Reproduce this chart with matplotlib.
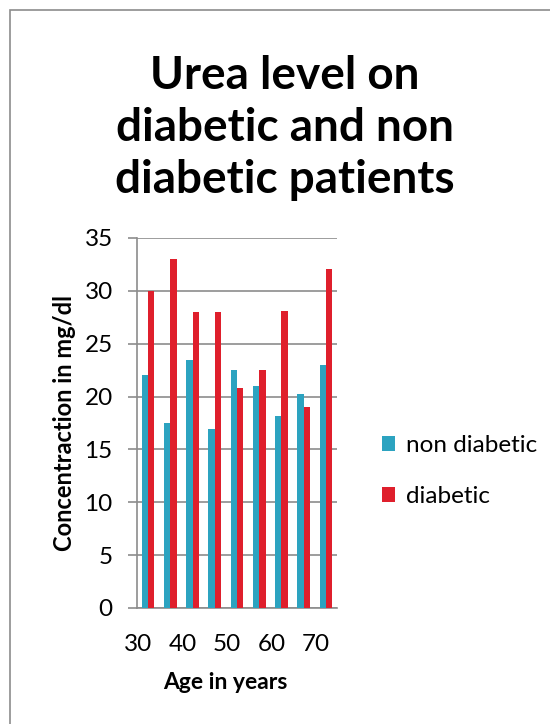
import matplotlib
matplotlib.use('Agg')
import matplotlib.pyplot as plt
import matplotlib.transforms as mtransforms
import numpy as np
from matplotlib.patches import Rectangle

plt.rcParams['font.family'] = ['Lato', 'DejaVu Sans']

ages = [30, 35, 40, 45, 50, 55, 60, 65, 70]
tick_labels = ['30', '', '40', '', '50', '', '60', '', '70']
non_diabetic = [22, 17.5, 23.5, 16.9, 22.5, 21, 18.2, 20.2, 23]
diabetic = [30, 33, 28, 28, 20.8, 22.5, 28.1, 19, 32.1]

blue = '#2CA3C0'
red = '#DF1F2C'

fig = plt.figure(figsize=(5.5, 7.24), dpi=100)
# outer frame of the chart
fig.patches.append(Rectangle((10/550, -0.01), 1.0, 1 - 10/724 + 0.01,
                             transform=fig.transFigure, fill=False,
                             edgecolor='#8c8c8c', linewidth=1.2))

ax = fig.add_axes([137/550, 1 - 608/724, 200/550, 370/724])

x = np.arange(len(ages))
w = 1 / 3.5
ax.bar(x - w/2, non_diabetic, w, color=blue, label='non diabetic', zorder=3)
ax.bar(x + w/2, diabetic, w, color=red, label='diabetic', zorder=3)

ax.set_xlim(-0.5, len(ages) - 0.5)
ax.set_ylim(0, 35)
ax.set_yticks(range(0, 36, 5))
ax.yaxis.grid(True, color='#8c8c8c', linewidth=1.2, zorder=0)
ax.set_xticks(x)
ax.set_xticklabels(tick_labels)
ax.tick_params(axis='x', length=0, labelsize=17.5, pad=19)
ax.tick_params(axis='y', length=6.5, width=1.2, color='#8c8c8c', labelsize=17.5, pad=11)
# labels sit a little left of the category centres in the original
shift = mtransforms.ScaledTranslation(-10/100, 0, fig.dpi_scale_trans)
for lab in ax.get_xticklabels():
    lab.set_transform(lab.get_transform() + shift)
for s in ['top', 'right']:
    ax.spines[s].set_visible(False)
ax.spines['left'].set_color('#8c8c8c')
ax.spines['left'].set_linewidth(1.2)
ax.spines['bottom'].set_color('#8c8c8c')
ax.spines['bottom'].set_linewidth(1.2)

ax.set_xlabel('Age in years', fontsize=16.5, fontweight='bold', labelpad=12)
ax.xaxis.label.set_x(0.44)
ax.set_ylabel('Concentraction in mg/dl', fontsize=17, fontweight='bold', labelpad=6)

fig.text(285/550, 1 - 128/724, 'Urea level on\ndiabetic and non\ndiabetic patients',
         ha='center', va='center', fontsize=33, fontweight='bold',
         linespacing=1.3)

fig.legend(loc='center left', bbox_to_anchor=(360/550, 1 - 471/724),
           frameon=False, fontsize=17.5, handlelength=0.55, handleheight=0.55,
           handletextpad=0.45, labelspacing=1.25)

fig.savefig('out.png', dpi=100)
